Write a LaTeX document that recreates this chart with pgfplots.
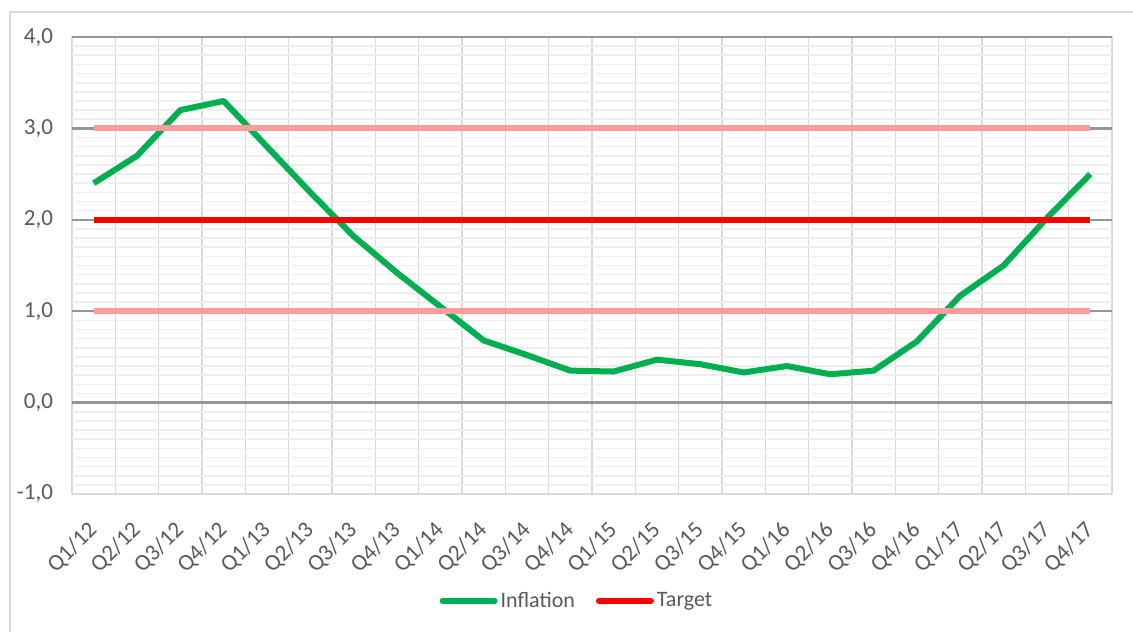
\documentclass[border=0pt]{standalone}
\usepackage{pgfplots}
\pgfplotsset{compat=1.18}
\usepackage{fontspec}
\setmainfont{Carlito}

\definecolor{infl}{HTML}{00B050}
\definecolor{tgt}{HTML}{FF0000}
\definecolor{band}{HTML}{FF9B9B}
\definecolor{txt}{HTML}{595959}
\definecolor{majgrid}{HTML}{969696}
\definecolor{mingrid}{HTML}{D9D9D9}
\definecolor{fine}{HTML}{EEEEEE}

\begin{document}
\begin{tikzpicture}
\path[use as bounding box] (0,0) rectangle (566.5pt,316pt);
% chart frame (top and left edge only visible)
\draw[mingrid, line width=0.8pt] (5pt,0) -- (5pt,310pt) -- (566.5pt,310pt);
\begin{axis}[
    at={(36pt,69pt)}, anchor=south west,
    scale only axis, width=520pt, height=228.5pt,
    xmin=-0.5, xmax=23.5, ymin=-1, ymax=4,
    xtick={0,...,23},
    xticklabels={Q1/12,Q2/12,Q3/12,Q4/12,Q1/13,Q2/13,Q3/13,Q4/13,Q1/14,Q2/14,Q3/14,Q4/14,
                 Q1/15,Q2/15,Q3/15,Q4/15,Q1/16,Q2/16,Q3/16,Q4/16,Q1/17,Q2/17,Q3/17,Q4/17},
    minor xtick={-0.5,0.5,...,23.5},
    ytick={-1,0,...,4},
    minor y tick num=9,
    grid=both,
    major x grid style={white, line width=0.8pt},
    minor x grid style={mingrid, line width=0.6pt},
    major y grid style={majgrid, line width=1.2pt},
    minor y grid style={fine, line width=0.8pt},
    axis line style={draw=none},
    major tick length=0pt, minor tick length=0pt,
    /pgf/number format/assume math mode=true,
    tick label style={font=\fontsize{11.5}{13}\selectfont, text=txt},
    yticklabel style={/pgf/number format/fixed, /pgf/number format/fixed zerofill,
                      /pgf/number format/precision=1, /pgf/number format/use comma, xshift=-6pt},
    xticklabel style={xshift=-3.5pt, yshift=-8pt, rotate=45, anchor=north east},
    legend style={at={(0.486,-0.234)}, anchor=center, legend columns=2, draw=none, fill=none,
                  font=\fontsize{11}{13}\selectfont, text=txt,
                  /tikz/every even column/.append style={column sep=9pt},
                  nodes={inner sep=1.5pt}},
    legend image code/.code={\draw[#1, line cap=round] (0pt,0pt) -- (26pt,0pt);},
]
% Inflation
\addplot[infl, line width=3pt, line join=round] coordinates {
(0,2.40) (1,2.70) (2,3.20) (3,3.30) (4,2.80) (5,2.30) (6,1.82) (7,1.42)
(8,1.05) (9,0.68) (10,0.52) (11,0.35) (12,0.34) (13,0.47) (14,0.42) (15,0.33)
(16,0.40) (17,0.31) (18,0.35) (19,0.67) (20,1.17) (21,1.50) (22,2.02) (23,2.50)
};
\addlegendentry{Inflation}
% Target
\addplot[tgt, line width=3pt] coordinates {(0,2) (23,2)};
\addlegendentry{Target}
% tolerance band
\addplot[band, line width=3pt, forget plot] coordinates {(0,3) (23,3)};
\addplot[band, line width=3pt, forget plot] coordinates {(0,1) (23,1)};
\draw[mingrid, line width=1pt] (axis cs:-0.5,-1) -- (axis cs:23.5,-1);
\end{axis}
\end{tikzpicture}
\end{document}
